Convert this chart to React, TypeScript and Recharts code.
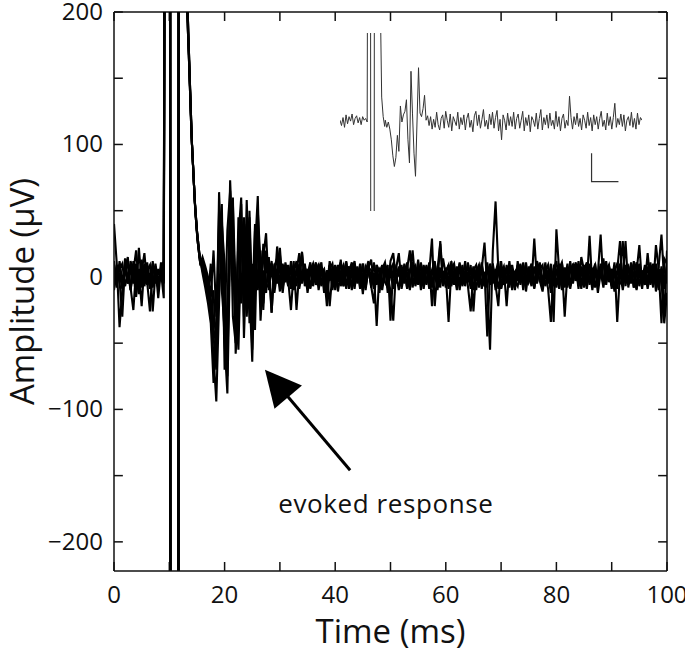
import { LineChart, Line, XAxis, YAxis, ReferenceLine, ReferenceDot, Label } from 'recharts';

const FONT = "'Open Sans', 'Noto Sans', sans-serif";
const INK = '#111';

// sampling of the recorded traces (ms)
const STEP = 0.5;
const POST_START = 16;
const INSET_POST_START = 15;

const X_TICKS = [0, 10, 20, 30, 40, 50, 60, 70, 80, 90, 100];
const Y_TICKS = [-200, -150, -100, -50, 0, 50, 100, 150, 200];
const X_DOMAIN = [0, 100];
const Y_DOMAIN = [-222, 200];
// inward tick length, in axis units (about 9px)
const X_TICK_LEN = 6.8;
const Y_TICK_LEN = 1.6;

// stimulus artifact, shared by the traces (t, µV); goes off scale both ways
const ARTIFACT_A: [number, number][] = [
  [9.3, 600], [10.15, 600], [10.25, -600], [11.6, -600], [11.7, 600], [13.15, 600],
  [13.2, 205], [13.6, 159], [14.0, 109], [14.6, 58], [15.0, 35], [15.5, 15],
];
const ARTIFACT_B: [number, number][] = [
  [9.35, 600], [10.1, 600], [10.2, -600], [11.65, -600], [11.75, 600], [13.2, 600],
  [13.25, 210], [13.7, 150], [14.1, 100], [14.7, 50], [15.1, 28], [15.6, 10],
];

// 0 – 9 ms
const A_PRE = [40, 10, -38, -10, 8, -5, 12, 3, -15, 6, -8, 10, -4, -26, 7, 2, -9, 5, -3];
const B_PRE = [5, -8, 12, -4, 7, 15, -10, 4, 20, -6, 9, -3, 11, -7, 3, 8, -16, 6, 2];
const C_PRE = [-6, 9, -3, -30, 10, -5, 4, 8, -12, 22, -4, 7, 3, -9, 12, -5, 6, -3, 9];
const D_PRE = [8, -4, 6, 10, -7, 3, -10, 12, -2, 5, -22, 9, 4, -6, 10, 2, -8, 11, -5];
const E_PRE = [-10, 5, 9, -6, 3, 11, -8, -25, 6, -4, 13, -7, 5, 9, -26, 4, -3, 7, 12];
const F_PRE = [12, -6, 3, -9, 14, -2, 8, -5, 10, -13, 4, 18, -6, 3, -8, 10, -5, 4, -16];

// 16 – 100 ms
const A_POST = [
  8, 2, -10, -30, -60, -94, -20, 40,
  10, -60, 30, 55, -10, -40, 40, 20,
  -15, 30, -30, 15, 40, 0, -10, 12,
  5, -27, 8, 14, -6, 10, -4, 7,
  -9, 3, 12, -6, 18, -3, 6, -8,
  4, 11, -5, 7, -12, 5, -22, 3,
  9, -4, 13, -7, 2, 8, -10, 6,
  -3, 10, -6, 4, 12, -8, 3, -37,
  5, -7, 9, 2, -11, -33, 6, 18,
  -5, 7, -9, 3, 20, -4, 8, -10,
  4, -6, 11, -22, 7, 3, -8, 14,
  2, -34, 6, 10, -5, 8, -3, 12,
  -7, -26, 5, 9, -4, 6, 26, -8,
  -55, 20, 57, 5, -9, 6, -22, 8,
  3, -8, 12, -4, 7, -11, 5, 2,
  -6, 12, 3, -9, 8, -5, 10, -34,
  36, 4, -10, 7, -6, 12, -3, 8,
  -9, 15, 5, -7, 10, -4, 6, -12,
  3, 14, -6, 9, -5, 11, -34, 4,
  27, -7, 8, -3, 12, -9, 5, 2,
  -6, 18, -4, 9, -11, 6, -35, 14,
  10,
];
const B_POST = [
  12, 5, -5, -20, -45, -70, 64, 10,
  -50, -88, 20, 60, -58, -20, 55, -30,
  58, -10, -64, 20, 61, -20, 15, 33,
  -10, 6, -8, 23, 4, -12, 7, -3,
  9, -6, -3, 5, 19, -7, 2, 11,
  -4, 8, -10, 3, 6, -9, 12, -2,
  7, -11, 4, 9, -6, 3, -8, 10,
  -2, 6, -13, 8, 4, -5, 11, -6,
  3, 9, -4, -8, 12, 18, -3, 5,
  -7, 10, 2, -9, 6, -3, 13, -5,
  8, -4, 3, 29, -22, 6, 25, -7,
  4, 9, -6, 3, -10, 7, 2, -4,
  11, -5, 8, -3, 6, -9, 4, -45,
  3, 8, -6, -22, 12, -4, 7, -8,
  5, -10, 9, 2, -6, 11, -3, 7,
  -8, 4, 10, -6, 3, -9, -34, 6,
  12, -5, 8, -30, 4, -7, 10, -3,
  6, -9, 5, 11, -4, 7, -8, 3,
  32, -6, 4, 9, -7, 5, 10, -5,
  -3, 27, -8, 6, 2, -10, 7, -4,
  9, -5, 4, -8, 24, 6, -3, -35,
  -12,
];
const C_POST = [
  5, -3, -15, 10, -40, -50, 30, 45,
  -30, -40, 73, 20, -40, 30, 60, -46,
  20, 45, -40, -15, 35, -33, 5, -12,
  15, -27, 10, -5, 22, -8, 3, 9,
  -6, 12, -25, 4, -3, 8, -9, 5,
  10, -4, 7, -6, 3, -14, 9, -2,
  -8, 5, 11, -3, 7, -9, 4, 12,
  -5, 8, -10, 3, 6, -7, -20, 9,
  4, -6, 8, -12, 5, 10, -4, 7,
  -9, 3, 6, 20, -8, 5, -3, 11,
  -6, 9, -4, 2, 10, -8, 4, -6,
  7, -5, 12, -3, 8, -10, 5, 3,
  -4, 9, -26, 6, -3, 10, -7, 4,
  8, -5, 3, 12, -8, 5, -3, 9,
  -10, 4, 7, -6, 11, -3, 8, -5,
  29, -4, 6, 9, -7, 3, -12, 8,
  5, -9, 7, -3, 10, -6, 4, 11,
  -7, 3, 9, -5, 31, -8, 5, -3,
  8, -6, 12, -4, 6, -9, 3, 10,
  -5, 7, -3, 11, -8, 4, 24, -6,
  6, -9, 3, 10, -5, 8, 32, -4,
  5,
];
const D_POST = [
  15, 8, 0, -15, 20, -30, 50, -10,
  -40, 35, 65, -30, -50, 45, -20, 35,
  -25, 50, -20, 40, -10, 20, -20, 8,
  0, 12, -9, 5, 17, -6, 9, -4,
  7, -10, 4, 18, -5, 6, -12, 3,
  9, -6, 2, 11, -8, 5, -3, 7,
  -10, 6, 3, -7, 12, -4, 8, -6,
  5, -9, 10, -3, 7, 13, -5, 4,
  -8, 6, 11, -4, 3, -9, 7, 2,
  9, -5, 4, -10, 7, 3, -6, 10,
  -3, 8, -9, 5, 12, -5, 27, -4,
  6, -9, 3, 8, -4, 11, -7, 5,
  -3, 7, -10, 4, 9, -6, 3, -8,
  10, -4, 6, -9, 3, 8, -5, 12,
  -6, 4, -3, 9, -10, 6, 2, -7,
  8, -5, 11, -4, 7, 3, -9, 5,
  -6, 10, -4, 7, -8, 5, 9, -3,
  12, -6, 4, -9, 7, -3, 10, -5,
  4, -8, 9, -3, 6, -11, 5, 27,
  -4, 8, -6, 3, 10, -7, 4, -9,
  7, -3, 11, -6, 4, -10, 8, -30,
  20,
];
const E_POST = [
  3, -8, -20, -35, -80, -40, 20, 55,
  -70, -30, 45, 40, -20, -55, 25, 45,
  -30, 10, -55, 35, 25, -15, 25, -5,
  -8, 10, -4, 6, -11, 8, 3, -7,
  12, -4, 6, -9, 3, 10, -5, 8,
  -7, 4, 9, -5, 2, -22, 6, 10,
  -4, 8, -7, 3, 11, -6, 4, -9,
  7, -3, 10, -8, 5, 2, -6, 9,
  -12, 5, 7, -4, 9, -6, 3, -10,
  6, -4, 11, -7, 3, 8, -5, 4,
  -9, 6, 3, -8, 10, -4, 7, -5,
  3, 9, -7, 5, -4, 10, -6, 2,
  8, -5, 4, -10, 6, 3, -7, 11,
  -4, 7, -10, 5, 2, -6, 9, -3,
  6, -8, 3, 10, -5, 7, -4, 2,
  -9, 5, 8, -6, 11, -4, 3, -7,
  6, -3, 10, -8, 4, 7, -5, 9,
  -4, 8, -7, 3, 6, -10, 5, -3,
  10, -5, 3, 8, -6, 4, -9, 6,
  -3, 9, -5, 6, -8, 3, 10, -6,
  4, -7, 9, -3, 6, -8, 3, 7,
  -5,
];
const F_POST = [
  10, 0, -8, -25, -10, -60, 40, 25,
  -20, -75, 55, 10, -35, 20, 45, -10,
  40, -35, 10, -40, 50, 10, -25, 20,
  -5, 8, -12, 3, 9, -6, 11, -2,
  -25, 5, -7, 10, -4, 7, 2, -9,
  6, -3, 10, -7, 4, -5, 8, -10,
  3, 9, -5, 6, -9, 4, 11, -4,
  8, -6, 3, -10, 7, 5, -9, 3,
  6, -10, 4, 9, -33, 7, -5, 8,
  -3, 6, -8, 5, 10, -7, 2, -6,
  9, -5, 7, -4, 3, -10, 6, 4,
  -8, 5, 10, -6, 3, -4, 9, -7,
  4, -9, 6, 3, -8, 11, -5, 7,
  -6, 10, -4, 7, -9, 3, 6, -5,
  9, -3, -7, 5, 8, -6, 4, 10,
  -5, 7, -3, -11, 4, 9, -6, 3,
  -8, 6, 11, -4, 7, -9, 3, 8,
  -3, 5, -8, 10, -6, 4, 9, -7,
  5, 10, -4, 7, -9, 6, -3, 4,
  -10, 4, 8, -5, 3, 11, -7, 5,
  -4, 8, -6, 3, 10, -5, 6, -9,
  8,
];

// inset: single trace, own units
const INSET_PRE = [2, -4, 5, -6, 8, -2, 6, 1, 9, -3, 4, 7, -1, 5, -3, 6, 2, 4, 0];
const INSET_ARTIFACT: [number, number][] = [
  [9.2, 300], [10.1, 300], [10.2, -300], [11.3, -300], [11.4, 300], [13.4, 300],
  [13.5, 100], [13.8, 28], [14.3, 6], [14.8, -5],
];
const INSET_POST = [
  2, -6, 0, -8, -20, -38, -50, -40, -15, -33, 18, 0, 8, 12,
  25, -20, -46, 57, 10, -35, -61, 0, 61, 10, 6, 15, 30, 2,
  7, -4, 6, -8, 3, -6, 11, -3,
  -9, 4, 8, -7, 12, 2, -6, 9,
  -10, 6, 1, -4, 11, -8, 5, -3,
  8, -9, 4, 10, -6, 2, -11, 7,
  12, -4, 8, -7, 3, 14, -5, 2,
  -8, 9, -3, 11, -7, 5, 13, -10,
  3, -20, 8, 2, -9, 10, -4, 6,
  -5, 11, -8, 4, 9, -7, 2, 12,
  -10, 5, -4, 8, -11, 6, 2, -5,
  10, -8, 4, 14, -9, 5, -3, 8,
  -7, 10, -4, 2, -8, 12, -5, 6,
  -10, 4, 9, -7, 2, -4, 29, 5,
  -8, 6, -3, 10, -5, 4, -9, 8,
  2, -7, 11, -4, 5, -10, 8, -3,
  6, -8, 4, 12, -5, 2, -9, 10,
  -4, 6, -8, 5, 21, -6, 4, -3,
  9, -5, 8, -10, 2, 6, -4, 11,
  -6, 4, -8, 10, -3, 5, 2,
];
const SCALE_BAR = [
  { t: 83.3, v: -35 },
  { t: 83.3, v: -67 },
  { t: 92.2, v: -67 },
];

const ARROW = [
  { x: 42.7, y: -146 },
  { x: 27.3, y: -70 },
];
const NOTE = { x: 29.7, y: -178, text: 'evoked response' };

const toPoints = (pre: number[], art: [number, number][], post: number[], postStart: number) => [
  ...pre.map((v, i) => ({ t: i * STEP, v })),
  ...art.map(([t, v]) => ({ t, v })),
  ...post.map((v, i) => ({ t: postStart + i * STEP, v })),
];

const TRACES = [
  toPoints(A_PRE, ARTIFACT_A, A_POST, POST_START),
  toPoints(B_PRE, ARTIFACT_B, B_POST, POST_START),
  toPoints(C_PRE, ARTIFACT_A, C_POST, POST_START),
  toPoints(D_PRE, ARTIFACT_B, D_POST, POST_START),
  toPoints(E_PRE, ARTIFACT_A, E_POST, POST_START),
  toPoints(F_PRE, ARTIFACT_B, F_POST, POST_START),
];
const INSET = toPoints(INSET_PRE, INSET_ARTIFACT, INSET_POST, INSET_POST_START);

const fmt = (v: number) => (v < 0 ? `\u2212${-v}` : `${v}`);

const BottomTick = ({ x, y, payload }: any) =>
  payload.value % 20 === 0 ? (
    <text x={x} y={Number(y) + 32} textAnchor="middle" fontSize={24} fill={INK} fontFamily={FONT}>
      {payload.value}
    </text>
  ) : null;

const LeftTick = ({ x, y, payload }: any) =>
  payload.value % 100 === 0 ? (
    <text x={Number(x) - 11} y={Number(y) + 8} textAnchor="end" fontSize={24} fill={INK} fontFamily={FONT}>
      {fmt(payload.value)}
    </text>
  ) : null;

const Arrow = (props: any) => {
  const { x1, y1, x2, y2 } = props;
  if ([x1, y1, x2, y2].some((n) => n == null || isNaN(n))) return null;
  const len = Math.hypot(x2 - x1, y2 - y1);
  const ux = (x2 - x1) / len;
  const uy = (y2 - y1) / len;
  const head = 36;
  const half = 18;
  const bx = x2 - ux * head;
  const by = y2 - uy * head;
  return (
    <g>
      <line x1={x1} y1={y1} x2={bx + ux * 4} y2={by + uy * 4} stroke="#000" strokeWidth={3} />
      <polygon points={`${x2},${y2} ${bx - uy * half},${by + ux * half} ${bx + uy * half},${by - ux * half}`} fill="#000" />
    </g>
  );
};

const Note = (props: any) => (
  <text x={props.cx} y={props.cy} fontSize={26} letterSpacing={0.6} fill={INK} fontFamily={FONT}>
    {NOTE.text}
  </text>
);

const tickStyle = { stroke: INK, strokeWidth: 1.5, ifOverflow: 'visible' as const };

const App = () => {
  return (
    <div style={{ position: 'fixed', left: 0, top: 0, width: 685, height: 658, background: '#fff' }}>
      <LineChart width={685} height={658} margin={{ top: 12, right: 18, bottom: 0, left: 0 }}>
        <XAxis
          dataKey="t"
          type="number"
          domain={X_DOMAIN}
          allowDataOverflow
          ticks={X_TICKS}
          interval={0}
          height={87}
          tickSize={0}
          tickMargin={0}
          tickLine={false}
          tick={<BottomTick />}
          axisLine={{ stroke: INK, strokeWidth: 1.5 }}
        >
          <Label value="Time (ms)" position="insideBottom" offset={15} fontSize={33} fill={INK} fontFamily={FONT} />
        </XAxis>
        <YAxis
          type="number"
          domain={Y_DOMAIN}
          allowDataOverflow
          ticks={Y_TICKS}
          interval={0}
          width={114}
          tickSize={0}
          tickMargin={0}
          tickLine={false}
          tick={<LeftTick />}
          axisLine={{ stroke: INK, strokeWidth: 1.5 }}
        >
          <Label
            value="Amplitude (μV)"
            angle={-90}
            position="insideLeft"
            offset={22}
            fontSize={33}
            fill={INK}
            fontFamily={FONT}
            style={{ textAnchor: 'middle' }}
          />
        </YAxis>

        {/* frame on top and right */}
        <ReferenceLine y={Y_DOMAIN[1]} {...tickStyle} />
        <ReferenceLine x={X_DOMAIN[1]} {...tickStyle} />

        {/* inward ticks on all four sides */}
        {X_TICKS.map((t) => (
          <ReferenceLine key={`b${t}`} segment={[{ x: t, y: Y_DOMAIN[0] }, { x: t, y: Y_DOMAIN[0] + X_TICK_LEN }]} {...tickStyle} />
        ))}
        {X_TICKS.map((t) => (
          <ReferenceLine key={`t${t}`} segment={[{ x: t, y: Y_DOMAIN[1] }, { x: t, y: Y_DOMAIN[1] - X_TICK_LEN }]} {...tickStyle} />
        ))}
        {Y_TICKS.map((v) => (
          <ReferenceLine key={`l${v}`} segment={[{ x: X_DOMAIN[0], y: v }, { x: X_DOMAIN[0] + Y_TICK_LEN, y: v }]} {...tickStyle} />
        ))}
        {Y_TICKS.map((v) => (
          <ReferenceLine key={`r${v}`} segment={[{ x: X_DOMAIN[1], y: v }, { x: X_DOMAIN[1] - Y_TICK_LEN, y: v }]} {...tickStyle} />
        ))}

        {TRACES.map((d, i) => (
          <Line
            key={i}
            data={d}
            dataKey="v"
            type="linear"
            stroke="#000"
            strokeWidth={2.1}
            dot={false}
            activeDot={false}
            isAnimationActive={false}
          />
        ))}
        <ReferenceLine segment={ARROW} shape={Arrow} />
        <ReferenceDot x={NOTE.x} y={NOTE.y} r={0} shape={Note} />
      </LineChart>

      <div style={{ position: 'absolute', left: 340, top: 33 }}>
        <LineChart width={302} height={178} margin={{ top: 0, right: 0, bottom: 0, left: 0 }}>
          <XAxis dataKey="t" type="number" domain={X_DOMAIN} allowDataOverflow hide />
          <YAxis type="number" domain={[-100, 100]} allowDataOverflow hide />
          <Line data={INSET} dataKey="v" type="linear" stroke="#333" strokeWidth={1} dot={false} activeDot={false} isAnimationActive={false} />
          <Line data={SCALE_BAR} dataKey="v" type="linear" stroke="#333" strokeWidth={1.2} dot={false} activeDot={false} isAnimationActive={false} />
        </LineChart>
      </div>
    </div>
  );
};

export default App;
